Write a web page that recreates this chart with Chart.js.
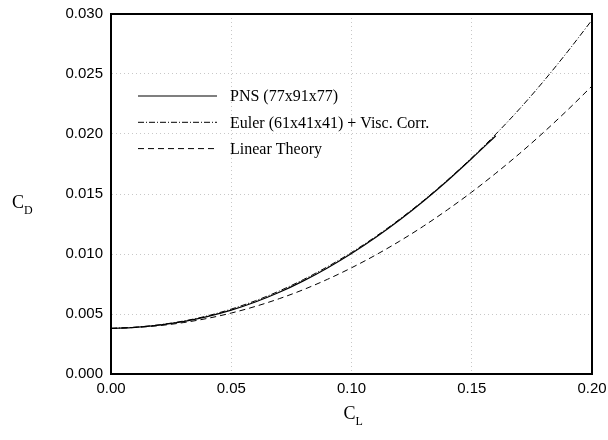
<!DOCTYPE html>
<html>
<head>
<meta charset="utf-8">
<script src="https://cdn.jsdelivr.net/npm/chart.js@4"></script>
<style>
  html, body { margin: 0; padding: 0; background: #fff; }
  #wrap { width: 608px; height: 440px; }
</style>
</head>
<body>
<div id="wrap"><canvas id="dragChart" width="608" height="440"></canvas></div>
<script>
// lift coefficient samples
const clGrid = [0.00, 0.01, 0.02, 0.03, 0.04, 0.05, 0.06, 0.07, 0.08, 0.09, 0.10,
                0.11, 0.12, 0.13, 0.14, 0.15, 0.16, 0.17, 0.18, 0.19, 0.20];
// drag coefficient
const pnsCD = [0.00380, 0.00389, 0.00408, 0.00437, 0.00478, 0.00532, 0.00600, 0.00681,
               0.00776, 0.00884, 0.01004, 0.01137, 0.01283, 0.01442, 0.01613, 0.01796, 0.01985];
const eulerCD = [0.00380, 0.00390, 0.00410, 0.00441, 0.00484, 0.00541, 0.00610, 0.00692,
                 0.00787, 0.00894, 0.01013, 0.01145, 0.01290, 0.01447, 0.01618, 0.01802,
                 0.01999, 0.02212, 0.02443, 0.02690, 0.02950];
const linearCD = [0.00380, 0.00388, 0.00403, 0.00428, 0.00463, 0.00508, 0.00563, 0.00628,
                  0.00703, 0.00789, 0.00885, 0.00991, 0.01107, 0.01233, 0.01370, 0.01516,
                  0.01673, 0.01839, 0.02016, 0.02203, 0.02400];
const seriesNames = ['PNS (77x91x77)', 'Euler (61x41x41) + Visc. Corr.', 'Linear Theory'];

const xTickValues = [0, 0.05, 0.10, 0.15, 0.20];
const xTickLabels = ['0.00', '0.05', '0.10', '0.15', '0.20'];
const yTickValues = [0, 0.005, 0.010, 0.015, 0.020, 0.025, 0.030];
const yTickLabels = ['0.000', '0.005', '0.010', '0.015', '0.020', '0.025', '0.030'];

const pairUp = (ys) => ys.map((y, i) => ({ x: clGrid[i], y }));

// box round the plot
const frame = {
    id: 'frame',
    beforeDatasetsDraw(chart) {
        const { ctx, chartArea: a } = chart;
        ctx.save();
        ctx.strokeStyle = '#000';
        ctx.lineWidth = 2;
        ctx.strokeRect(a.left, a.top, a.right - a.left, a.bottom - a.top);
        ctx.restore();
    },
};

// legend drawn inside the plot area
const innerLegend = {
    id: 'innerLegend',
    afterDatasetsDraw(chart) {
        const { ctx, chartArea: a } = chart;
        ctx.save();
        chart.data.datasets.forEach((ds, i) => {
            const y = a.top + 82 + i * 26.3;
            ctx.strokeStyle = '#000';
            ctx.lineWidth = ds.borderWidth;
            ctx.setLineDash(ds.borderDash || []);
            ctx.beginPath();
            ctx.moveTo(a.left + 27, y);
            ctx.lineTo(a.left + 106, y);
            ctx.stroke();
            ctx.setLineDash([]);
            ctx.fillStyle = '#000';
            ctx.font = '16px "Liberation Serif", "Times New Roman", serif';
            ctx.textBaseline = 'middle';
            ctx.fillText(ds.label, a.left + 119, y + 1);
        });
        ctx.restore();
    },
};

// C_D and C_L with subscripts
const axisTitles = {
    id: 'axisTitles',
    afterDraw(chart) {
        const { ctx, chartArea: a } = chart;
        const big = '18px "Liberation Serif", "Times New Roman", serif';
        const small = '12px "Liberation Serif", "Times New Roman", serif';
        const draw = (x, y, main, sub) => {
            ctx.font = big;
            ctx.fillText(main, x, y);
            const w = ctx.measureText(main).width;
            ctx.font = small;
            ctx.fillText(sub, x + w, y + 6);
        };
        ctx.save();
        ctx.fillStyle = '#000';
        ctx.textBaseline = 'alphabetic';
        draw(12, 208, 'C', 'D');
        draw((a.left + a.right) / 2 - 8, 419, 'C', 'L');
        ctx.restore();
    },
};

const tickFont = { family: '"Liberation Sans", Arial, sans-serif', size: 15 };

new Chart(document.getElementById('dragChart').getContext('2d'), {
    type: 'line',
    data: {
        datasets: [
            { label: seriesNames[0], data: pairUp(pnsCD), borderWidth: 1.2, borderDash: [] },
            { label: seriesNames[1], data: pairUp(eulerCD), borderWidth: 1, borderDash: [6, 2, 1, 2] },
            { label: seriesNames[2], data: pairUp(linearCD), borderWidth: 1, borderDash: [6, 4] },
        ].map((ds) => ({ ...ds, borderColor: '#000', pointRadius: 0, cubicInterpolationMode: 'monotone', fill: false })),
    },
    options: {
        responsive: false,
        animation: false,
        layout: { padding: { top: 14, right: 16, left: 0, bottom: 0 } },
        plugins: { legend: { display: false }, tooltip: { enabled: false } },
        scales: {
            x: {
                type: 'linear',
                min: 0,
                max: 0.2,
                afterFit: (s) => { s.height = 66; s.paddingLeft = 0; s.paddingRight = 0; },
                afterBuildTicks: (s) => { s.ticks = xTickValues.map((v) => ({ value: v })); },
                ticks: {
                    color: '#000',
                    font: tickFont,
                    padding: 6,
                    maxRotation: 0,
                    callback: (v, i) => xTickLabels[i],
                },
                grid: { color: '#c8c8c8', drawTicks: false },
                border: { display: true, color: '#000', width: 2, dash: [1, 3] },
            },
            y: {
                type: 'linear',
                min: 0,
                max: 0.03,
                afterFit: (s) => { s.width = 111; s.paddingTop = 0; s.paddingBottom = 0; },
                afterBuildTicks: (s) => { s.ticks = yTickValues.map((v) => ({ value: v })); },
                ticks: {
                    color: '#000',
                    font: tickFont,
                    padding: 8,
                    callback: (v, i) => yTickLabels[i],
                },
                grid: { color: '#c8c8c8', drawTicks: false },
                border: { display: true, color: '#000', width: 2, dash: [1, 3] },
            },
        },
    },
    plugins: [frame, innerLegend, axisTitles],
});
</script>
</body>
</html>
